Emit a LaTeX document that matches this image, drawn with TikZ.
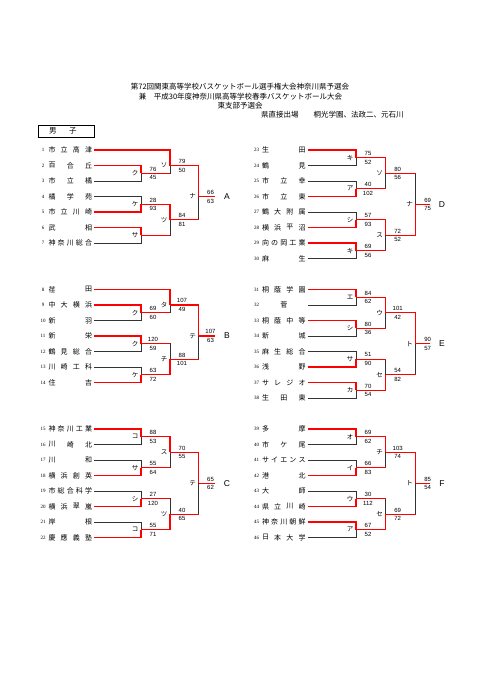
\documentclass[tikz,border=0pt]{standalone}
\usepackage{fontspec}
\setmainfont{Liberation Sans}
\newfontfamily\jp{Noto Sans CJK JP}
\newfontfamily\numf{Liberation Serif}
\usepackage{tikz}
\usetikzlibrary{positioning,calc}

\tikzset{
  winline/.style={draw=red, line width=1.3pt},
  loseline/.style={draw=black!80, line width=0.7pt},
  namelbl/.style={font=\jp\fontsize{7}{7}\selectfont, inner sep=0pt},
  numlbl/.style={font=\numf\fontsize{5}{5}\selectfont, inner sep=0pt},
  scorelbl/.style={font=\fontsize{6}{6}\selectfont, inner sep=0pt},
  boutlbl/.style={font=\jp\fontsize{6.5}{6.5}\selectfont, inner sep=0pt},
  blocklbl/.style={font=\fontsize{8.5}{8.5}\selectfont, inner sep=0pt},
  headlbl/.style={font=\jp\fontsize{7.5}{7.5}\selectfont, inner sep=0pt},
}

% entrant: id, row, characters (spread over the name column)
\newcommand{\entrant}[3]{%
  \coordinate (t#1) at (\xl,{\yb+15.5*#2});
  \node[numlbl] (n#1) at ([xshift=-51pt]t#1) {#1};
  \foreach \c [count=\k] in {#3} {\xdef\nch{\k}}
  \foreach \c [count=\k] in {#3} {
    \ifnum\nch=1 \def\dx{-23.75}\else
      \pgfmathsetmacro\dx{-42+36.5*(\k-1)/(\nch-1)}\fi
    \node[namelbl] at ([xshift=\dx pt]t#1) {\c};
  }
}
% bout: name, x of the joint, row, label, upper score, lower score
\newcommand{\bout}[6]{%
  \coordinate (#1) at (#2,{\yb+15.5*#3});
  \node[boutlbl] at ([xshift=-6pt]#1) {#4};
  \node[scorelbl] at ([xshift=12pt,yshift=4.3pt]#1) {#5};
  \node[scorelbl] at ([xshift=12pt,yshift=-4.5pt]#1) {#6};
}
\newcommand{\wline}[2]{\draw[winline] (#1) -| (#2);}
\newcommand{\lline}[2]{\draw[loseline] (#1) -| (#2);}
\newcommand{\lmline}[2]{\draw[loseline] (#1) -| (#2); \draw[winline] (#1) -- (#1 -| #2);}
% last bout out to the block letter
\newcommand{\blockout}[3]{%
  \coordinate (#1out) at (\ve,{\yb+15.5*#2});
  \node[blocklbl] (lab#3) at (\vl,{\yb+15.5*#2}) {#3};
  \draw[winline] (#1) -- (#1out);
}

\begin{document}
\begin{tikzpicture}[x=1pt, y=-1pt]
\useasboundingbox (0,0) rectangle (481,680);

% heading
\node[headlbl] (hd1) at (240,87) {第72回関東高等学校バスケットボール選手権大会神奈川県予選会};
\node[headlbl] (hd2) at (240.5,96.5) {兼　平成30年度神奈川県高等学校春季バスケットボール大会};
\node[headlbl] (hd3) at (240,105.5) {東支部予選会};
\node[headlbl, anchor=west] (qual) at (261,115) {県直接出場　　桐光学園、法政二、元石川};
\node[draw, line width=0.6pt, minimum width=56pt, minimum height=12pt, inner sep=0pt,
  font=\jp\fontsize{7.5}{7.5}\selectfont] (boys) at (66,131) {\hspace*{-6pt}男\hspace{12.5pt}子};
\draw[line width=1.3pt] (boys.south west) -- (boys.south east) -- (boys.north east);

% ---- left column
\def\xl{94}\def\va{141}\def\vb{170}\def\vc{198.5}\def\ve{215}\def\vl{227}

% block A
\def\yb{150}
\entrant{1}{0}{市,立,高,津}
\entrant{2}{1}{百,合,丘}
\entrant{3}{2}{市,立,橘}
\entrant{4}{3}{橘,学,苑}
\entrant{5}{4}{市,立,川,崎}
\entrant{6}{5}{武,相}
\entrant{7}{6}{神,奈,川,総,合}
\bout{aku}{\va}{1.5}{ク}{76}{45}
\bout{ake}{\va}{3.5}{ケ}{28}{93}
\bout{asa}{\va}{5.5}{サ}{}{}
\bout{aso}{\vb}{1}{ソ}{79}{50}
\bout{atu}{\vb}{4.5}{ツ}{84}{81}
\bout{ana}{\vc}{3}{ナ}{66}{63}
\lline{t3}{aku} \wline{t2}{aku}
\lline{t4}{ake} \wline{t5}{ake}
\lline{t7}{asa} \wline{t6}{asa}
\lmline{aku}{aso} \wline{t1}{aso}
\lmline{asa}{atu} \wline{ake}{atu}
\lmline{atu}{ana} \wline{aso}{ana}
\blockout{ana}{3}{A}

% block B
\def\yb{289.5}
\entrant{8}{0}{荏,田}
\entrant{9}{1}{中,大,横,浜}
\entrant{10}{2}{新,羽}
\entrant{11}{3}{新,栄}
\entrant{12}{4}{鶴,見,総,合}
\entrant{13}{5}{川,崎,工,科}
\entrant{14}{6}{住,吉}
\bout{bku}{\va}{1.5}{ク}{69}{60}
\bout{bkux}{\va}{3.5}{ク}{120}{59}
\bout{bke}{\va}{5.5}{ケ}{63}{72}
\bout{bta}{\vb}{1}{タ}{107}{49}
\bout{bchi}{\vb}{4.5}{チ}{88}{101}
\bout{bte}{\vc}{3}{テ}{107}{63}
\lline{t10}{bku} \wline{t9}{bku}
\lline{t12}{bkux} \wline{t11}{bkux}
\lline{t13}{bke} \wline{t14}{bke}
\lmline{bku}{bta} \wline{t8}{bta}
\lmline{bkux}{bchi} \wline{bke}{bchi}
\lmline{bchi}{bte} \wline{bta}{bte}
\blockout{bte}{3}{B}

% block C
\def\yb{429}
\entrant{15}{0}{神,奈,川,工,業}
\entrant{16}{1}{川,崎,北}
\entrant{17}{2}{川,和}
\entrant{18}{3}{横,浜,創,英}
\entrant{19}{4}{市,総,合,科,学}
\entrant{20}{5}{横,浜,翠,嵐}
\entrant{21}{6}{岸,根}
\entrant{22}{7}{慶,應,義,塾}
\bout{cko}{\va}{0.5}{コ}{88}{53}
\bout{csa}{\va}{2.5}{サ}{55}{64}
\bout{cshi}{\va}{4.5}{シ}{27}{120}
\bout{ckox}{\va}{6.5}{コ}{55}{71}
\bout{csu}{\vb}{1.5}{ス}{70}{55}
\bout{ctu}{\vb}{5.5}{ツ}{40}{65}
\bout{cte}{\vc}{3.5}{テ}{65}{62}
\lline{t16}{cko} \wline{t15}{cko}
\lline{t17}{csa} \wline{t18}{csa}
\lline{t19}{cshi} \wline{t20}{cshi}
\lline{t21}{ckox} \wline{t22}{ckox}
\lmline{csa}{csu} \wline{cko}{csu}
\lmline{cshi}{ctu} \wline{ckox}{ctu}
\lmline{ctu}{cte} \wline{csu}{cte}
\blockout{cte}{3.5}{C}

% ---- right column
\def\xl{307.5}\def\va{356}\def\vb{385.7}\def\vc{415.7}\def\ve{430}\def\vl{442}

% block D
\def\yb{150}
\entrant{23}{0}{生,田}
\entrant{24}{1}{鶴,見}
\entrant{25}{2}{市,立,幸}
\entrant{26}{3}{市,立,東}
\entrant{27}{4}{鶴,大,附,属}
\entrant{28}{5}{横,浜,平,沼}
\entrant{29}{6}{向,の,岡,工,業}
\entrant{30}{7}{麻,生}
\bout{dki}{\va}{0.5}{キ}{75}{52}
\bout{da}{\va}{2.5}{ア}{40}{102}
\bout{dshi}{\va}{4.5}{シ}{57}{93}
\bout{dkix}{\va}{6.5}{キ}{69}{56}
\bout{dso}{\vb}{1.5}{ソ}{80}{56}
\bout{dsu}{\vb}{5.5}{ス}{72}{52}
\bout{dna}{\vc}{3.5}{ナ}{69}{75}
\lline{t24}{dki} \wline{t23}{dki}
\lline{t25}{da} \wline{t26}{da}
\lline{t27}{dshi} \wline{t28}{dshi}
\lline{t30}{dkix} \wline{t29}{dkix}
\lmline{da}{dso} \wline{dki}{dso}
\lmline{dkix}{dsu} \wline{dshi}{dsu}
\lmline{dso}{dna} \wline{dsu}{dna}
\blockout{dna}{3.5}{D}

% block E
\def\yb{289.5}
\entrant{31}{0}{桐,蔭,学,園}
\entrant{32}{1}{菅}
\entrant{33}{2}{桐,蔭,中,等}
\entrant{34}{3}{新,城}
\entrant{35}{4}{麻,生,総,合}
\entrant{36}{5}{浅,野}
\entrant{37}{6}{サ,レ,ジ,オ}
\entrant{38}{7}{生,田,東}
\bout{ee}{\va}{0.5}{エ}{84}{62}
\bout{eshi}{\va}{2.5}{シ}{80}{36}
\bout{esa}{\va}{4.5}{サ}{51}{90}
\bout{eka}{\va}{6.5}{カ}{70}{54}
\bout{eu}{\vb}{1.5}{ウ}{101}{42}
\bout{ese}{\vb}{5.5}{セ}{54}{82}
\bout{eto}{\vc}{3.5}{ト}{90}{57}
\lline{t32}{ee} \wline{t31}{ee}
\lline{t34}{eshi} \wline{t33}{eshi}
\lline{t35}{esa} \wline{t36}{esa}
\lline{t38}{eka} \wline{t37}{eka}
\lmline{eshi}{eu} \wline{ee}{eu}
\lmline{esa}{ese} \wline{eka}{ese}
\lmline{ese}{eto} \wline{eu}{eto}
\blockout{eto}{3.5}{E}

% block F
\def\yb{429}
\entrant{39}{0}{多,摩}
\entrant{40}{1}{市,ケ,尾}
\entrant{41}{2}{サ,イ,エ,ン,ス}
\entrant{42}{3}{港,北}
\entrant{43}{4}{大,師}
\entrant{44}{5}{県,立,川,崎}
\entrant{45}{6}{神,奈,川,朝,鮮}
\entrant{46}{7}{日,本,大,学}
\bout{fo}{\va}{0.5}{オ}{69}{62}
\bout{fi}{\va}{2.5}{イ}{66}{83}
\bout{fu}{\va}{4.5}{ウ}{30}{112}
\bout{fa}{\va}{6.5}{ア}{67}{52}
\bout{fchi}{\vb}{1.5}{チ}{103}{74}
\bout{fse}{\vb}{5.5}{セ}{69}{72}
\bout{fto}{\vc}{3.5}{ト}{85}{54}
\lline{t40}{fo} \wline{t39}{fo}
\lline{t41}{fi} \wline{t42}{fi}
\lline{t43}{fu} \wline{t44}{fu}
\lline{t46}{fa} \wline{t45}{fa}
\lmline{fi}{fchi} \wline{fo}{fchi}
\lmline{fu}{fse} \wline{fa}{fse}
\lmline{fse}{fto} \wline{fchi}{fto}
\blockout{fto}{3.5}{F}
\end{tikzpicture}
\end{document}
